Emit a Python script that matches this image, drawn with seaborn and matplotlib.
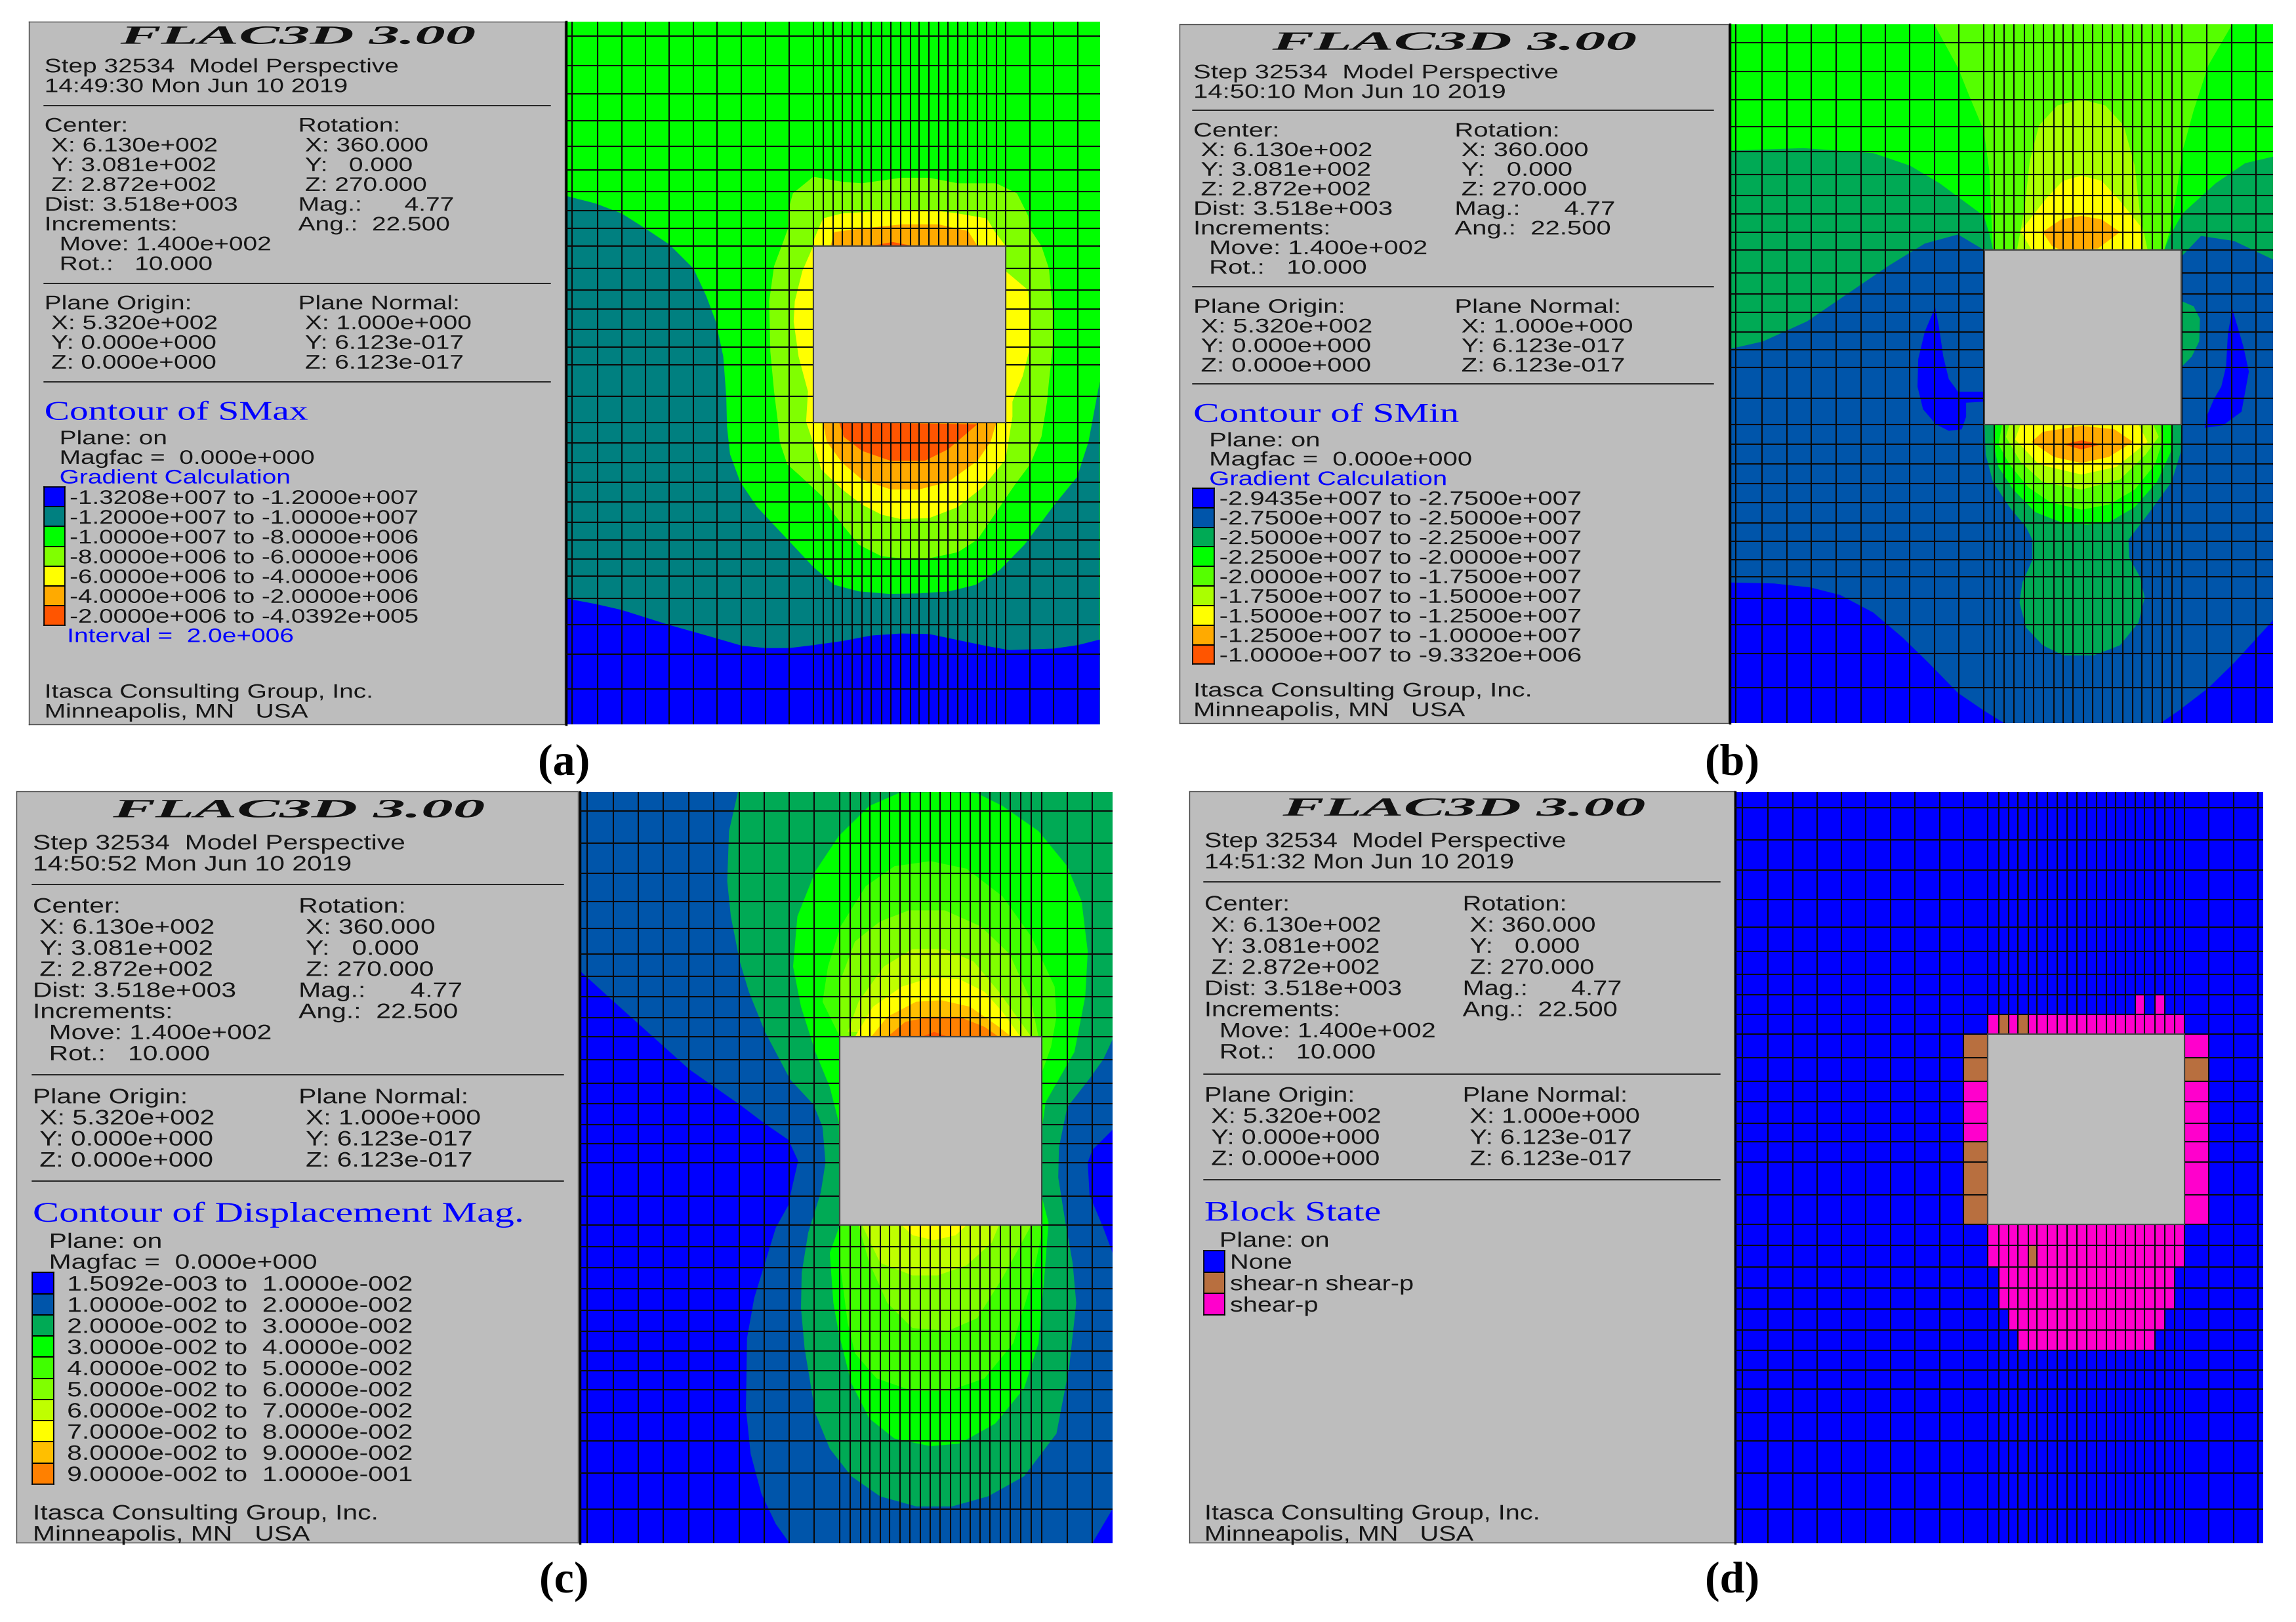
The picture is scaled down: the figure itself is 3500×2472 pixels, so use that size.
import numpy as np
import seaborn as sns
import matplotlib
matplotlib.use("Agg")
from matplotlib import pyplot as plt
from matplotlib.colors import ListedColormap
from matplotlib.patheffects import AbstractPathEffect
from matplotlib.transforms import Affine2D

W, H = 3500, 2472
GREY = "#BDBDBD"
INK = "#161616"
BLUE = "#0000FF"

# ---------- text of the info panels ----------
times = ["14:49:30 Mon Jun 10 2019", "14:50:10 Mon Jun 10 2019",
         "14:50:52 Mon Jun 10 2019", "14:51:32 Mon Jun 10 2019"]
headings = ["Contour of SMax", "Contour of SMin", "Contour of Displacement Mag.", "Block State"]
center_lines = ["Center:", "X: 6.130e+002", "Y: 3.081e+002", "Z: 2.872e+002",
                "Dist: 3.518e+003", "Increments:", "Move: 1.400e+002", "Rot.:   10.000"]
rotation_lines = ["Rotation:", "X: 360.000", "Y:   0.000", "Z: 270.000",
                  "Mag.:      4.77", "Ang.:  22.500"]
origin_lines = ["Plane Origin:", "X: 5.320e+002", "Y: 0.000e+000", "Z: 0.000e+000"]
normal_lines = ["Plane Normal:", "X: 1.000e+000", "Y: 6.123e-017", "Z: 6.123e-017"]

legend_a = ["-1.3208e+007 to -1.2000e+007", "-1.2000e+007 to -1.0000e+007",
            "-1.0000e+007 to -8.0000e+006", "-8.0000e+006 to -6.0000e+006",
            "-6.0000e+006 to -4.0000e+006", "-4.0000e+006 to -2.0000e+006",
            "-2.0000e+006 to -4.0392e+005"]
colors_a = ["#0000FF", "#008080", "#00FF00", "#80FF00", "#FFFF00", "#FFAA00", "#FF5500"]

legend_b = ["-2.9435e+007 to -2.7500e+007", "-2.7500e+007 to -2.5000e+007",
            "-2.5000e+007 to -2.2500e+007", "-2.2500e+007 to -2.0000e+007",
            "-2.0000e+007 to -1.7500e+007", "-1.7500e+007 to -1.5000e+007",
            "-1.5000e+007 to -1.2500e+007", "-1.2500e+007 to -1.0000e+007",
            "-1.0000e+007 to -9.3320e+006"]
colors_b = ["#0000FF", "#0055AA", "#00AA55", "#00FF00", "#55FF00", "#AAFF00", "#FFFF00", "#FFAA00", "#FF5500"]

legend_c = ["1.5092e-003 to  1.0000e-002", "1.0000e-002 to  2.0000e-002",
            "2.0000e-002 to  3.0000e-002", "3.0000e-002 to  4.0000e-002",
            "4.0000e-002 to  5.0000e-002", "5.0000e-002 to  6.0000e-002",
            "6.0000e-002 to  7.0000e-002", "7.0000e-002 to  8.0000e-002",
            "8.0000e-002 to  9.0000e-002", "9.0000e-002 to  1.0000e-001"]
colors_c = ["#0000FF", "#0055AA", "#00AA55", "#00FF00", "#40FF00", "#80FF00", "#BFFF00", "#FFFF00", "#FFBF00", "#FF8000"]

legend_d = ["None", "shear-n shear-p", "shear-p"]
colors_d = ["#0000FF", "#B86F3F", "#FF00CC"]

# ---------- mesh lines ----------
mesh_x_a = [38, 106, 170, 233, 297, 361, 424, 488, 552, 615, 679, 706, 732, 756, 783, 808, 833, 860, 885, 912,
            937, 960, 987, 1013, 1037, 1063, 1089, 1115, 1140, 1165, 1190, 1254, 1318, 1382]
mesh_y_a = [72, 131, 187, 241, 291, 338, 381, 419, 455, 490, 535, 578, 615, 656, 691, 727, 789, 842, 882, 921,
            961, 1000, 1040, 1076, 1113, 1148, 1192, 1244, 1303, 1372]
mesh_x_b = [47, 118, 185, 252, 319, 386, 453, 519, 586, 653, 720, 749, 776, 801, 830, 855, 882, 910, 936, 962,
            990, 1016, 1043, 1070, 1097, 1124, 1150, 1178, 1205, 1232, 1258, 1326, 1393, 1460]
mesh_y_b = [85, 143, 199, 252, 302, 348, 389, 426, 462, 498, 543, 585, 622, 661, 696, 732, 793, 846, 885, 924,
            963, 1001, 1041, 1078, 1114, 1148, 1192, 1244, 1301, 1369]
mesh_x_c = [45, 118, 188, 258, 328, 398, 468, 537, 607, 677, 747, 777, 805, 832, 860, 887, 915, 943, 971, 1000,
            1027, 1055, 1083, 1110, 1138, 1165, 1195, 1222, 1250, 1280, 1310, 1380, 1450]
mesh_y_c = [60, 124, 184, 241, 294, 345, 390, 430, 472, 509, 555, 603, 643, 685, 722, 761, 827, 885, 928, 970,
            1012, 1055, 1096, 1135, 1175, 1213, 1258, 1314, 1379, 1451]
mesh_x_d = [30, 102, 171, 239, 308, 377, 446, 515, 584, 652, 720, 750, 778, 805, 833, 858, 887, 915, 942, 970,
            998, 1025, 1053, 1080, 1107, 1135, 1160, 1190, 1218, 1245, 1272, 1342, 1411, 1480]
mesh_y_d = [54, 118, 178, 237, 291, 340, 385, 426, 465, 505, 552, 599, 639, 682, 719, 759, 825, 883, 925, 968,
            1010, 1052, 1094, 1134, 1173, 1211, 1258, 1314, 1378, 1451]

# ---------- contour bands (model outline, painted low to high) ----------
a_teal = [(22, 390), (100, 405), (170, 425), (233, 455), (297, 487), (361, 535), (395, 590), (420, 640), (440, 710),
          (448, 790), (450, 850), (458, 905), (485, 960), (530, 1010), (580, 1050), (630, 1090), (680, 1130),
          (735, 1165), (800, 1178), (880, 1183), (960, 1182), (1040, 1178), (1110, 1165), (1175, 1135), (1240, 1085),
          (1320, 1005), (1380, 950), (1410, 880), (1430, 800), (1440, 760), (1440, 1443), (22, 1443)]
a_blue = [(22, 1192), (100, 1203), (170, 1215), (297, 1245), (424, 1272), (488, 1286), (552, 1291), (615, 1291),
          (680, 1285), (756, 1277), (833, 1266), (912, 1262), (987, 1263), (1063, 1275), (1140, 1287), (1200, 1295),
          (1318, 1292), (1382, 1285), (1440, 1274), (1440, 1443), (22, 1443)]
a_lime = [(612, 420), (625, 385), (679, 352), (756, 362), (808, 365), (912, 354), (987, 354), (1063, 365), (1165, 365),
          (1220, 385), (1250, 430), (1254, 455), (1285, 490), (1305, 535), (1315, 615), (1315, 690), (1305, 760),
          (1300, 800), (1285, 870), (1255, 925), (1215, 965), (1165, 1020), (1115, 1075), (1063, 1100), (987, 1112),
          (912, 1112), (860, 1108), (800, 1085), (756, 1045), (735, 1025), (705, 990), (640, 945), (610, 925),
          (590, 880), (585, 840), (575, 780), (565, 700), (562, 600), (575, 530), (600, 480), (612, 455)]
a_yellow = [(682, 475), (705, 435), (756, 425), (860, 420), (987, 418), (1063, 425), (1140, 435), (1160, 460),
            (1190, 490), (1190, 540), (1250, 578), (1254, 640), (1252, 700), (1235, 750), (1208, 800), (1208, 830),
            (1190, 915), (1130, 970), (1063, 1010), (987, 1032), (912, 1034), (860, 1025), (808, 1005), (756, 975),
            (700, 935), (678, 880), (660, 840), (665, 780), (640, 710), (627, 640), (630, 600), (650, 540), (679, 490)]
a_orange_top = [(725, 490), (735, 462), (808, 455), (912, 447), (1013, 447), (1090, 460), (1115, 490)]
a_orange_low = [(705, 842), (715, 880), (756, 922), (808, 955), (885, 975), (960, 975), (1037, 960), (1115, 918),
                (1150, 880), (1165, 842)]
a_red_top = [(830, 490), (890, 482), (945, 490)]
a_red_low = [(748, 842), (760, 870), (808, 898), (885, 918), (975, 918), (1037, 895), (1115, 845)]

b_fan = [(585, 48), (650, 135), (680, 190), (720, 260), (735, 340), (740, 420), (745, 498), (1210, 498), (1225, 460),
         (1240, 400), (1260, 300), (1290, 220), (1330, 130), (1395, 48)]
b_sea_left = [(30, 300), (230, 295), (420, 305), (520, 330), (600, 365), (720, 430), (735, 465), (745, 498),
              (720, 520), (30, 720)]
b_sea_right = [(1506, 312), (1430, 325), (1350, 365), (1260, 425), (1225, 470), (1210, 498), (1258, 530), (1506, 530)]
b_deep = [(30, 695), (120, 680), (240, 640), (360, 580), (460, 530), (560, 485), (650, 467), (721, 498), (1258, 510),
          (1310, 470), (1400, 480), (1506, 517), (1506, 1440), (30, 1440)]
b_side_patch = [(1258, 600), (1290, 610), (1307, 635), (1305, 680), (1285, 710), (1258, 730)]
b_blue_left = [(30, 1160), (150, 1162), (250, 1170), (330, 1185), (420, 1220), (500, 1270), (570, 1320), (650, 1380),
               (720, 1415), (775, 1440), (30, 1440)]
b_blue_right = [(1200, 1440), (1250, 1415), (1330, 1370), (1400, 1320), (1506, 1235), (1506, 1440)]
b_drop_left = [(588, 612), (560, 660), (542, 715), (540, 770), (555, 815), (590, 845), (625, 858), (660, 855),
               (672, 830), (672, 802), (721, 800), (721, 780), (650, 780), (625, 755), (610, 710), (598, 650)]
b_drop_right = [(1395, 615), (1383, 665), (1378, 730), (1365, 770), (1345, 795), (1325, 830), (1320, 852), (1370, 847),
                (1420, 820), (1440, 740), (1425, 690), (1405, 640)]
b_low_sea = [(722, 845), (725, 905), (745, 960), (790, 1010), (835, 1050), (852, 1075), (852, 1115), (825, 1160),
             (817, 1200), (835, 1250), (880, 1285), (935, 1305), (1020, 1305), (1090, 1285), (1140, 1240), (1157, 1190),
             (1145, 1150), (1115, 1110), (1113, 1075), (1170, 1020), (1230, 960), (1255, 900), (1257, 845)]
b_low_green = [(750, 845), (745, 880), (760, 930), (800, 975), (860, 1020), (930, 1040), (1000, 1045), (1060, 1040),
               (1130, 1010), (1190, 960), (1228, 900), (1230, 845)]
b_low_fan = [(770, 845), (760, 885), (790, 925), (840, 970), (900, 1000), (985, 1015), (1060, 1005), (1130, 975),
             (1185, 925), (1205, 880), (1200, 845)]
b_low_lime = [(790, 845), (780, 870), (820, 920), (880, 960), (985, 975), (1090, 955), (1160, 905), (1195, 870), (1180, 845)]
b_low_yellow = [(820, 845), (805, 875), (870, 925), (985, 945), (1080, 930), (1165, 880), (1140, 845)]
b_low_orange = [(880, 860), (850, 880), (910, 910), (985, 922), (1060, 910), (1125, 880), (1075, 855), (985, 848)]
b_low_red = [(935, 885), (985, 877), (1040, 885), (985, 895)]
b_top_lime = [(810, 498), (830, 420), (845, 320), (870, 250), (920, 210), (985, 198), (1050, 210), (1100, 250),
              (1130, 330), (1145, 430), (1165, 498)]
b_top_yellow = [(820, 460), (890, 395), (935, 360), (985, 350), (1040, 360), (1090, 400), (1145, 450), (1150, 498), (850, 498)]
b_top_orange = [(880, 462), (930, 437), (985, 430), (1040, 437), (1090, 462), (1030, 495), (930, 498), (905, 490)]

c_sea = [(465, 22), (440, 100), (435, 200), (445, 270), (470, 360), (495, 420), (540, 500), (610, 595), (675, 645),
         (700, 690), (708, 760), (695, 820), (660, 900), (642, 980), (640, 1050), (650, 1130), (680, 1260), (720, 1330),
         (780, 1385), (860, 1425), (960, 1445), (1060, 1445), (1160, 1425), (1260, 1385), (1350, 1300), (1385, 1170),
         (1405, 1040), (1395, 960), (1375, 880), (1355, 790), (1357, 730), (1380, 650), (1440, 595), (1480, 555),
         (1506, 515), (1506, 22)]
c_blue_left = [(25, 378), (120, 440), (190, 485), (260, 530), (330, 575), (400, 610), (470, 645), (540, 683), (605, 715),
               (632, 757), (612, 820), (605, 845), (570, 890), (540, 960), (510, 1030), (490, 1110), (487, 1250),
               (500, 1340), (530, 1420), (570, 1480), (608, 1518), (25, 1518)]
c_blue_right = [(1506, 695), (1450, 735), (1437, 760), (1442, 825), (1480, 890), (1506, 940)]
c_blue_corner = [(1506, 1450), (1450, 1518), (1506, 1518)]
c_green = [(910, 25), (830, 50), (745, 110), (680, 180), (630, 270), (618, 370), (640, 450), (680, 540), (720, 610),
           (745, 680), (748, 885), (720, 940), (730, 1040), (745, 1100), (780, 1200), (830, 1270), (900, 1310),
           (1000, 1325), (1080, 1320), (1180, 1280), (1260, 1210), (1300, 1120), (1315, 1000), (1328, 880), (1310, 830),
           (1310, 690), (1320, 640), (1400, 540), (1430, 430), (1437, 340), (1420, 240), (1380, 170), (1300, 100),
           (1200, 50), (1130, 25), (1020, 22)]
c_g1_top = [(700, 440), (715, 370), (750, 290), (820, 210), (900, 170), (1000, 160), (1100, 175), (1200, 230), (1280, 310),
            (1345, 410), (1350, 470), (1335, 530), (1310, 580), (748, 510)]
c_g1_low = [(748, 885), (750, 970), (770, 1080), (790, 1140), (850, 1190), (950, 1215), (1050, 1215), (1150, 1190),
            (1230, 1120), (1280, 1000), (1310, 900), (1310, 885)]
c_g2_top = [(748, 400), (790, 320), (860, 280), (940, 258), (1040, 258), (1140, 290), (1220, 345), (1280, 440), (1300, 510), (750, 510)]
c_g2_low = [(800, 885), (830, 960), (880, 1040), (950, 1090), (1050, 1095), (1130, 1070), (1200, 990), (1280, 885)]
c_g3_top = [(770, 500), (800, 440), (870, 370), (950, 335), (1040, 335), (1120, 360), (1190, 420), (1260, 490), (1280, 510)]
c_g3_low = [(810, 885), (860, 960), (950, 985), (1020, 985), (1100, 965), (1170, 920), (1190, 885)]
c_yellow_top = [(790, 510), (840, 450), (920, 410), (1000, 392), (1080, 395), (1150, 420), (1200, 460), (1250, 510)]
c_yellow_low = [(920, 885), (950, 905), (1010, 915), (1070, 905), (1100, 885)]
c_amber = [(835, 510), (880, 470), (960, 440), (1030, 437), (1110, 450), (1190, 490), (1225, 510)]
c_orange = [(880, 510), (930, 480), (1000, 470), (1080, 470), (1150, 490), (1190, 510)]
c_red = [(975, 510), (1010, 500), (1050, 510)]

# block states in panel (d): top of row, left and right of the run of zones
shear_p_spans = [(426, 1135, 1160), (426, 1190, 1218), (465, 720, 1272), (505, 1272, 1342), (599, 1272, 1342),
                 (639, 1272, 1342), (682, 1272, 1342), (719, 1272, 1342), (759, 1272, 1342), (825, 1272, 1342),
                 (599, 652, 720), (639, 652, 720), (682, 652, 720), (883, 720, 1272), (925, 720, 1272),
                 (968, 750, 1245), (1010, 750, 1245), (1052, 778, 1218), (1094, 805, 1190)]
shear_n_spans = [(465, 750, 778), (465, 805, 833), (925, 833, 858), (505, 652, 720), (552, 652, 720), (719, 652, 720),
                 (759, 652, 720), (825, 652, 720), (552, 1272, 1342)]


class StretchX(AbstractPathEffect):
    # the FLAC3D screenshots were resized, so the lettering is wider than any installed font
    def __init__(self, sx):
        self.sx = sx

    def draw_path(self, renderer, gc, tpath, affine, rgbFace=None):
        renderer.draw_path(gc, tpath, Affine2D().scale(self.sx, 1) + affine, rgbFace)


def axes_px(x0, y0, x1, y1):
    return fig.add_axes([x0 / W, 1 - y1 / H, (x1 - x0) / W, (y1 - y0) / H])


def put(ax, x, y, s, em, sx, color=INK, family="Liberation Sans", **kw):
    ax.text(x, y, s, fontsize=em * 0.72, color=color, family=family, va="baseline", ha="left",
            path_effects=[StretchX(sx)], **kw)


def info_panel(rect, lim, p, time, heading, labels, colors):
    ax = axes_px(*rect)
    ax.set_facecolor(GREY)
    ax.set_xlim(lim[0], lim[1])
    ax.set_ylim(lim[2], lim[3])
    ax.set_xticks([])
    ax.set_yticks([])
    for s in ax.spines.values():
        s.set_color("#444444")
        s.set_linewidth(1.0)

    em, sx = p["em"], p["sx"]
    base = 14
    put(ax, p["title"][0], p["title"][1], "FLAC3D 3.00", 40, p["title"][2], color="#111111",
        family="Liberation Serif", weight="bold", style="italic")
    put(ax, p["left"], p["step"] + base, "Step 32534  Model Perspective", em, sx)
    put(ax, p["left"], p["step"] + p["dy"] + base, time, em, sx)
    for y in p["rules"]:
        ax.plot([p["rule_x"][0], p["rule_x"][1]], [y, y], color="#222222", lw=1.4)

    xs = [p["left"], p["ind"], p["ind"], p["ind"], p["left"], p["left"], p["mov"], p["mov"]]
    for i, s in enumerate(center_lines):
        put(ax, xs[i], p["center"] + i * p["dy"] + base, s, em, sx)
    xs = [p["right"], p["rind"], p["rind"], p["rind"], p["right"], p["right"]]
    for i, s in enumerate(rotation_lines):
        put(ax, xs[i], p["center"] + i * p["dy"] + base, s, em, sx)
    for i, s in enumerate(origin_lines):
        put(ax, p["left"] if i == 0 else p["ind"], p["origin"] + i * p["dy"] + base, s, em, sx)
    for i, s in enumerate(normal_lines):
        put(ax, p["right"] if i == 0 else p["rind"], p["origin"] + i * p["dy"] + base, s, em, sx)

    put(ax, p["left"], p["head"] + 18, heading, p["head_em"], p["head_sx"], color=BLUE, family="Liberation Serif")
    put(ax, p["mov"], p["plane"] + base, "Plane: on", em, sx)
    if p.get("magfac"):
        put(ax, p["mov"], p["magfac"] + base, "Magfac =  0.000e+000", em, sx)
    if p.get("grad"):
        put(ax, p["mov"], p["grad"] + base, "Gradient Calculation", em, sx, color=BLUE)

    # legend swatches
    sw = p["swatch"]
    n = len(colors)
    fx = (rect[2] - rect[0]) / (lim[1] - lim[0])
    fy = (rect[3] - rect[1]) / (lim[2] - lim[3])
    inset = axes_px(rect[0] + (sw[0] - lim[0]) * fx, rect[1] + (sw[2] - lim[3]) * fy,
                    rect[0] + (sw[1] - lim[0]) * fx, rect[1] + (sw[3] - lim[3]) * fy)
    sns.heatmap(np.arange(n).reshape(-1, 1), ax=inset, cmap=ListedColormap(colors), vmin=0, vmax=n - 1, cbar=False,
                xticklabels=False, yticklabels=False, linewidths=1.2, linecolor="black")
    for s in inset.spines.values():
        s.set_visible(True)
        s.set_color("black")
        s.set_linewidth(1.2)
    step = (sw[3] - sw[2]) / n
    for i, s in enumerate(labels):
        put(ax, p["lab"], sw[2] + (i + 0.5) * step + base, s, em, p.get("lab_sx", sx))

    if p.get("interval"):
        put(ax, p["mov"] + 20, p["interval"] + base, "Interval =  2.0e+006", em, sx, color=BLUE)
    put(ax, p["left"], p["itasca"] + base, "Itasca Consulting Group, Inc.", em, sx)
    put(ax, p["left"], p["itasca"] + p["dy"] + base, "Minneapolis, MN   USA", em, sx)
    return ax


def finish_mesh(ax, block, mesh_x, mesh_y):
    ax.vlines(mesh_x, ax.get_ylim()[1], ax.get_ylim()[0], color="#0A0A0A", lw=1.5, zorder=3)
    ax.hlines(mesh_y, ax.get_xlim()[0], ax.get_xlim()[1], color="#0A0A0A", lw=1.5, zorder=3)
    xs = [block[0], block[1], block[1], block[0]]
    ys = [block[2], block[2], block[3], block[3]]
    ax.fill(xs, ys, facecolor=GREY, edgecolor="#444444", lw=1.5, zorder=4)


def model_axes(rect, lim, bg):
    ax = axes_px(*rect)
    ax.set_facecolor(bg)
    ax.set_xlim(lim[0], lim[1])
    ax.set_ylim(lim[2], lim[3])
    ax.set_xticks([])
    ax.set_yticks([])
    for name, s in ax.spines.items():
        s.set_visible(name == "left")
    ax.spines["left"].set_color("black")
    ax.spines["left"].set_linewidth(2.5)
    return ax


def model_panel(rect, lim, block, mesh_x, mesh_y, bands, bg):
    ax = model_axes(rect, lim, bg)
    for color, pts in bands:
        xy = np.array(pts)
        ax.fill(xy[:, 0], xy[:, 1], color=color, lw=0, zorder=2)
    finish_mesh(ax, block, mesh_x, mesh_y)
    return ax


sns.set_theme(style="white")
fig = plt.figure(figsize=(W / 100, H / 100), dpi=100, facecolor="white")

# ---------- (a) ----------
info_a = dict(em=29.9, sx=1.30, lab_sx=1.29, title=(320, 87, 2.32), left=118, ind=136, mov=158, right=792, rind=810,
              step=130, dy=39.4, rules=[210, 564, 760], rule_x=(116, 1462), center=248, origin=602,
              head=818, head_em=41, head_sx=1.40, plane=871, magfac=910, grad=949,
              swatch=(116, 172, 970, 1246), lab=185, interval=1265, itasca=1376)
info_panel((43.6, 33, 861, 1104), (76, 1500, 1443, 43), info_a, times[0], headings[0], legend_a, colors_a)
bands_a = [("#008080", a_teal), ("#0000FF", a_blue), ("#80FF00", a_lime), ("#FFFF00", a_yellow),
           ("#FFAA00", a_orange_top), ("#FFAA00", a_orange_low), ("#FF5500", a_red_top), ("#FF5500", a_red_low)]
model_panel((862.6, 33, 1676.5, 1104), (22, 1440, 1443, 43), (680, 1190, 490, 842), mesh_x_a, mesh_y_a, bands_a, "#00FF00")

# ---------- (b) ----------
info_b = dict(em=29.9, sx=1.34, title=(278, 99, 2.38), left=68, ind=88, mov=110, right=762, rind=780,
              step=142, dy=39.0, rules=[220, 571, 765], rule_x=(66, 1450), center=258, origin=609,
              head=822, head_em=41, head_sx=1.446, plane=875, magfac=913, grad=952,
              swatch=(67, 124, 972, 1323), lab=137, itasca=1373)
info_panel((1798.4, 36.7, 2635.2, 1102), (32, 1490, 1440, 48), info_b, times[1], headings[1], legend_b, colors_b)
bands_b = [("#55FF00", b_fan), ("#00AA55", b_sea_left), ("#00AA55", b_sea_right), ("#0055AA", b_deep),
           ("#00AA55", b_side_patch), ("#0000FF", b_blue_left), ("#0000FF", b_blue_right), ("#0000FF", b_drop_left),
           ("#0000FF", b_drop_right), ("#00AA55", b_low_sea), ("#00FF00", b_low_green), ("#55FF00", b_low_fan),
           ("#AAFF00", b_low_lime), ("#FFFF00", b_low_yellow), ("#FFAA00", b_low_orange), ("#FF5500", b_low_red),
           ("#AAFF00", b_top_lime), ("#FFFF00", b_top_yellow), ("#FFAA00", b_top_orange)]
model_panel((2636.8, 36.7, 3465.2, 1102), (30, 1506, 1440, 48), (721, 1257, 498, 846), mesh_x_b, mesh_y_b, bands_b, "#00FF00")

# ---------- (c) ----------
info_c = dict(em=31.8, sx=1.285, title=(300, 68, 2.43), left=87, ind=105, mov=130, right=793, rind=812,
              step=114, dy=39.4, rules=[193, 549, 747], rule_x=(85, 1497), center=232, origin=588,
              head=805, head_em=43, head_sx=1.40, plane=858, magfac=897,
              swatch=(85, 143, 918, 1313), lab=178, itasca=1365)
info_panel((24.7, 1206.3, 881, 2350.8), (43, 1535, 1422, 20), info_c, times[2], headings[2], legend_c, colors_c)
bands_c = [("#00AA55", c_sea), ("#0000FF", c_blue_left), ("#0000FF", c_blue_right), ("#0000FF", c_blue_corner),
           ("#00FF00", c_green), ("#40FF00", c_g1_top), ("#40FF00", c_g1_low), ("#80FF00", c_g2_top), ("#80FF00", c_g2_low),
           ("#BFFF00", c_g3_top), ("#BFFF00", c_g3_low), ("#FFFF00", c_yellow_top), ("#FFFF00", c_yellow_low),
           ("#FFBF00", c_amber), ("#FF8000", c_orange), ("#FF5500", c_red)]
model_panel((883.7, 1206.8, 1696, 2351.7), (25, 1506, 1518, 22), (748, 1309, 510, 885), mesh_x_c, mesh_y_c, bands_c, "#0055AA")

# ---------- (d) ----------
info_d = dict(em=32.0, sx=1.24, title=(288, 65, 2.37), left=80, ind=98, mov=120, right=766, rind=785,
              step=110, dy=39.5, rules=[189, 547, 745], rule_x=(78, 1450), center=228, origin=585,
              head=803, head_em=43, head_sx=1.35, plane=856,
              swatch=(78, 134, 877, 997), lab=148, itasca=1365)
info_panel((1813, 1206.3, 2644, 2350.8), (40, 1488, 1422, 20), info_d, times[3], headings[3], legend_d, colors_d)

ax_d = model_axes((2645.4, 1206.8, 3450.4, 2351.7), (10, 1495, 1518, 22), "#0000FF")
x_edges = np.array([10] + mesh_x_d + [1495])
y_edges = np.array([22] + mesh_y_d + [1518])
states = np.zeros((len(y_edges) - 1, len(x_edges) - 1), dtype=int)
x_mid = (x_edges[:-1] + x_edges[1:]) / 2
for code, spans in [(2, shear_p_spans), (1, shear_n_spans)]:
    for top, x0, x1 in spans:
        row = np.where(y_edges[:-1] == top)[0][0]
        states[row, (x_mid > x0) & (x_mid < x1)] = code
ax_d.pcolormesh(x_edges, y_edges, states, cmap=ListedColormap(colors_d), vmin=0, vmax=2, zorder=2)
finish_mesh(ax_d, (720, 1272, 505, 883), mesh_x_d, mesh_y_d)

# ---------- panel letters ----------
letters = ["(a)", "(b)", "(c)", "(d)"]
letter_x = [860, 2641, 860, 2641]
letter_y = [1181, 1181, 2427, 2427]
for s, x, y in zip(letters, letter_x, letter_y):
    fig.text(x / W, 1 - y / H, s, fontsize=49, family="Liberation Serif", weight="bold", color="black",
             ha="center", va="baseline")

fig.savefig("out.png", dpi=100)
